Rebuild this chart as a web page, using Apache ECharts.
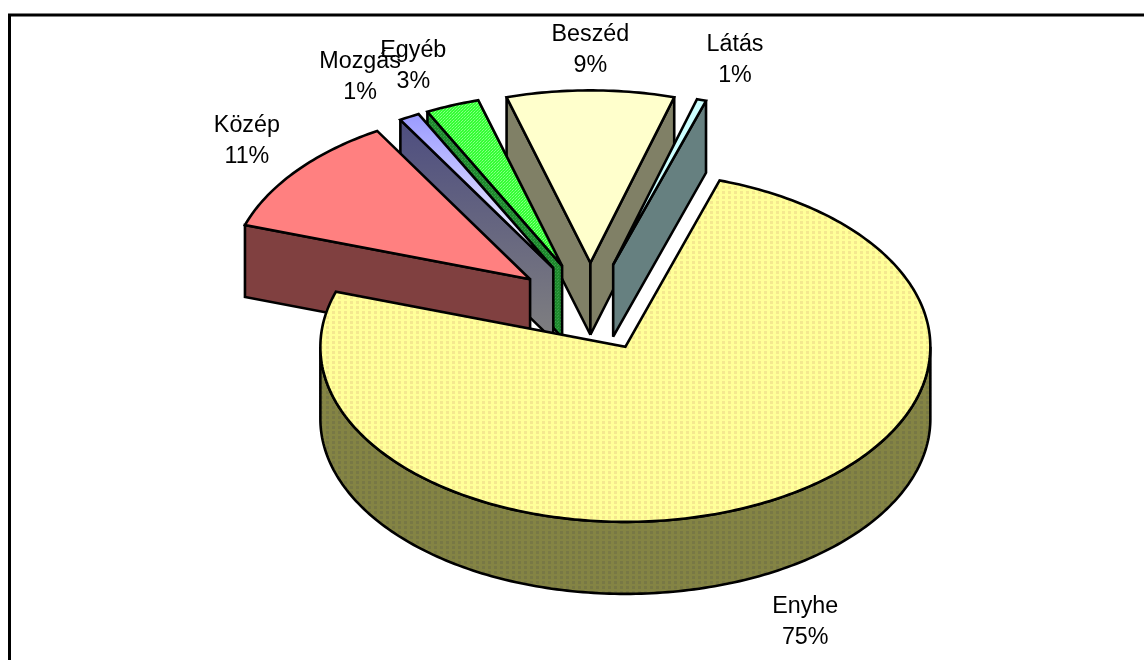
<!DOCTYPE html>
<html>
<head>
<meta charset="utf-8">
<style>html,body{margin:0;padding:0;background:#fff}#chart{width:1144px;height:660px}</style>
<script src="https://cdn.jsdelivr.net/npm/echarts@6/dist/echarts.min.js"></script>
</head>
<body>
<div id="chart"></div>
<script>
// ---- data (percent of the whole) ----
var categories = ['Enyhe', 'Közép', 'Mozgás', 'Egyéb', 'Beszéd', 'Látás'];
var values = [75.1, 11.4, 1.1, 2.9, 9.0, 0.5];

// ---- pie geometry ----
var CX = 590.4, CY = 307.2, RX = 305, RY = 175, DEPTH = 72;
var EXPLODE = 0.254, START_DEG = 18;
var sliceScale = [1, 0.985, 0.985, 0.985, 0.985, 0.985];
var LABEL_KX = 1.59, LABEL_KY = 1.49;
var labelNudgeX = [-4, 34, 2, 0, 0, 2];
var labelNudgeY = [10, -2, -1, 2, 4, 2];

// ---- fills ----
function pattern(w, h, bg, dots) {
  var c = document.createElement('canvas');
  c.width = w; c.height = h;
  var g = c.getContext('2d');
  g.fillStyle = bg; g.fillRect(0, 0, w, h);
  dots.forEach(function (d) { g.fillStyle = d[4]; g.fillRect(d[0], d[1], d[2], d[3]); });
  return { image: c, repeat: 'repeat' };
}
function vgrad(a, b) {
  return { type: 'linear', x: 0, y: 0, x2: 0, y2: 1, colorStops: [{ offset: 0, color: a }, { offset: 1, color: b }] };
}
var topFills = [
  pattern(6, 5, '#FFFF99', [[2, 1, 3, 3, '#F4E88F']]),
  '#FF8080',
  vgrad('#9999FF', '#FFFFFF'),
  pattern(3, 3, '#33FF33', [[0, 0, 1, 1, '#88FF88'], [2, 1, 1, 1, '#88FF88'], [1, 2, 1, 1, '#66FF66']]),
  '#FFFFCC',
  '#CCFFFF'
];
var wallFills = [
  pattern(6, 5, '#848444', [[2, 1, 3, 3, '#787845']]),
  '#804040',
  vgrad('#4D4D80', '#808080'),
  pattern(3, 3, '#1F8A2E', [[0, 0, 1, 1, '#38A048'], [2, 1, 1, 1, '#38A048']]),
  '#808066',
  '#668080'
];

// ---- slice angles, from the values ----
var total = values.reduce(function (a, b) { return a + b; }, 0);
var slices = [];
var acc = START_DEG;
values.forEach(function (v, i) {
  var a1 = acc, a2 = acc + v / total * 360;
  acc = a2;
  var mid = (a1 + a2) / 2;
  var r = mid * Math.PI / 180;
  var back = Math.abs(((mid + 180) % 360) - 180);
  slices.push({
    index: i, a1: a1, a2: a2, mid: mid, back: back,
    ox: CX + EXPLODE * RX * Math.sin(r),
    oy: CY - EXPLODE * RY * Math.cos(r)
  });
});
// painter's order: the slices nearest the back are drawn first
var drawOrder = slices.slice().sort(function (a, b) { return a.back - b.back; });

function pt(s, deg, drop) {
  var r = deg * Math.PI / 180, k = sliceScale[s.index];
  return [s.ox + k * RX * Math.sin(r), s.oy - k * RY * Math.cos(r) + (drop || 0)];
}
function arcPoints(s, from, to, drop) {
  var pts = [], n = Math.max(2, Math.ceil(Math.abs(to - from)));
  for (var k = 0; k <= n; k++) pts.push(pt(s, from + (to - from) * k / n, drop));
  return pts;
}
var edgeStyle = { stroke: '#000', lineWidth: 2.6, lineJoin: 'miter', miterLimit: 2.5 };
function poly(points, fill) {
  return { type: 'polygon', shape: { points: points }, style: Object.assign({ fill: fill }, edgeStyle) };
}
function faceAt(s, deg, fill) {
  var p = pt(s, deg, 0);
  return poly([[s.ox, s.oy], p, [p[0], p[1] + DEPTH], [s.ox, s.oy + DEPTH]], fill);
}

function renderSlice(params) {
  var s = drawOrder[params.dataIndex];
  var kids = [];
  if (Math.sin(s.a1 * Math.PI / 180) < 0) kids.push(faceAt(s, s.a1, wallFills[s.index]));
  if (Math.sin(s.a2 * Math.PI / 180) > 0) kids.push(faceAt(s, s.a2, wallFills[s.index]));
  var from = Math.max(s.a1, 90), to = Math.min(s.a2, 270);
  if (to > from) {
    kids.push(poly(arcPoints(s, from, to, 0).concat(arcPoints(s, to, from, DEPTH)), wallFills[s.index]));
  }
  kids.push(poly([[s.ox, s.oy]].concat(arcPoints(s, s.a1, s.a2, 0)), topFills[s.index]));
  return { type: 'group', children: kids };
}
function renderLabel(params) {
  var s = slices[params.dataIndex];
  var r = s.mid * Math.PI / 180;
  var cosv = Math.cos(r);
  var x = CX + LABEL_KX * RX * Math.sin(r) + labelNudgeX[s.index];
  var y = CY - LABEL_KY * RY * cosv + (cosv < 0 ? DEPTH : 0) + labelNudgeY[s.index];
  return {
    type: 'text',
    style: {
      text: categories[s.index] + '\n' + Math.round(values[s.index]) + '%',
      x: x, y: y, fill: '#000',
      font: '23.3px "Liberation Sans", Arial, sans-serif',
      lineHeight: 31, align: 'center', verticalAlign: 'middle'
    }
  };
}

var chart = echarts.init(document.getElementById('chart'), null, { renderer: 'canvas' });
chart.setOption({
  animation: false,
  backgroundColor: '#fff',
  graphic: [{
    type: 'polyline', z: 0,
    shape: { points: [[9.5, 660], [9.5, 15], [1144, 15]] },
    style: { stroke: '#000', lineWidth: 3, fill: 'none' }
  }],
  series: [
    {
      type: 'custom', coordinateSystem: 'none', z: 2, silent: true,
      data: drawOrder.map(function (s) { return values[s.index]; }),
      renderItem: renderSlice
    },
    {
      type: 'custom', coordinateSystem: 'none', z: 3, silent: true,
      data: slices.map(function (s) { return values[s.index]; }),
      renderItem: renderLabel
    }
  ]
});
</script>
</body>
</html>
